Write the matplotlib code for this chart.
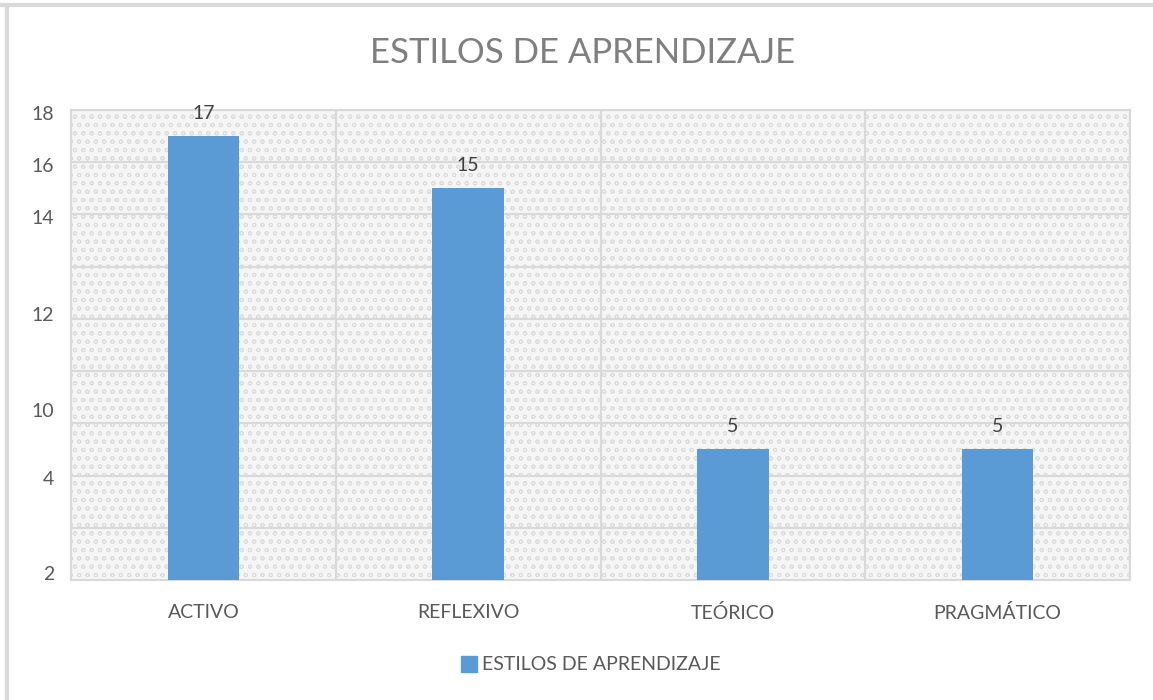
import matplotlib.pyplot as plt
from matplotlib.lines import Line2D

categorias = ["ACTIVO", "REFLEXIVO", "TEÓRICO", "PRAGMÁTICO"]
valores = [17, 15, 5, 5]
serie = "ESTILOS DE APRENDIZAJE"
titulo = "ESTILOS DE APRENDIZAJE"
# etiquetas del eje y tal como aparecen (posiciones irregulares en el original)
ytick_pos = [17.9, 15.9, 13.9, 10.2, 6.5, 3.9, 0.27]
ytick_lab = ["18", "16", "14", "12", "10", "4", "2"]

plt.rcParams["font.family"] = ["Lato", "DejaVu Sans"]
plt.rcParams["hatch.linewidth"] = 0.7

fig = plt.figure(figsize=(11.53, 7), dpi=100)
ax = fig.add_axes([71 / 1153, 1 - 580 / 700, (1130 - 71) / 1153, (580 - 110) / 700])

# fondo con textura
ax.set_facecolor("#f5f5f5")
ax.add_patch(plt.Rectangle((0, 0), 1, 1, transform=ax.transAxes, facecolor="none",
                           edgecolor="#dcdcdc", hatch="oo", linewidth=0, zorder=0))

x = range(len(categorias))
bars = ax.bar(x, valores, width=0.27, color="#5b9bd5", zorder=3)
for b, v in zip(bars, valores):
    ax.text(b.get_x() + b.get_width() / 2, v + 0.55, str(v), ha="center", va="bottom",
            fontsize=14, color="#404040", zorder=4)

ax.set_xlim(-0.5, len(categorias) - 0.5)
ax.set_ylim(0, 18)
ax.set_xticks(list(x))
ax.set_xticklabels(categorias, fontsize=14, color="#595959")
ax.set_yticks(ytick_pos)
ax.set_yticklabels(ytick_lab, fontsize=14, color="#595959")
ax.tick_params(length=0, pad=17)
ax.tick_params(axis="y", pad=12)

# rejilla
for k in range(0, 19, 2):
    ax.axhline(k, color="#d9d9d9", linewidth=1.5, zorder=1)
for k in range(len(categorias) + 1):
    ax.axvline(k - 0.5, color="#d9d9d9", linewidth=1.5, zorder=1)
for s in ax.spines.values():
    s.set_color("#d9d9d9")
    s.set_linewidth(1.5)

fig.text(583 / 1153, 1 - 53 / 700, titulo, ha="center", va="center",
         fontsize=25, color="#7f7f7f")

handle = Line2D([], [], marker="s", linestyle="none", markersize=11,
                markerfacecolor="#5b9bd5", markeredgecolor="#5b9bd5")
fig.legend([handle], [serie], loc="center", bbox_to_anchor=(585 / 1153, 1 - 665 / 700),
           frameon=False, fontsize=14, handletextpad=-0.3, labelcolor="#595959")

# borde del gráfico
fig.add_artist(Line2D([0, 1], [1 - 4.5 / 700] * 2, color="#d9d9d9", linewidth=3))
fig.add_artist(Line2D([7 / 1153] * 2, [0, 1 - 4.5 / 700], color="#d9d9d9", linewidth=3))

fig.savefig("out.png", dpi=100, facecolor="white")
